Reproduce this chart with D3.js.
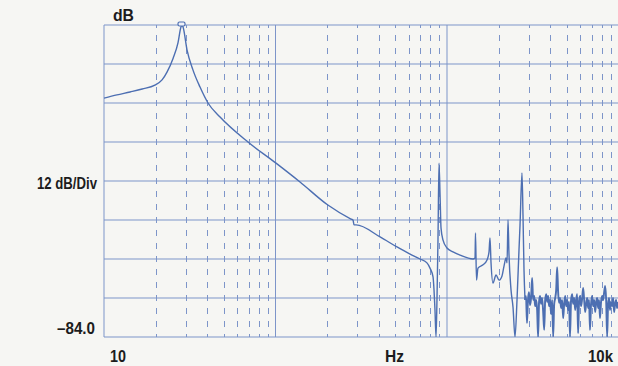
<!DOCTYPE html>
<html>
<head>
<meta charset="utf-8">
<script src="https://cdn.jsdelivr.net/npm/d3@7"></script>
<style>
  html, body { margin: 0; padding: 0; background: #f6f6f3; }
  svg { display: block; }
  .lbl { font-family: "Liberation Sans", Arial, sans-serif; font-weight: bold; fill: #1c1c1c; }
</style>
</head>
<body>
<svg id="chart" width="618" height="366"></svg>
<script>
// Frequency response: resonance near 28 Hz, roll-off, antiresonance, higher modes and noise floor
const freqHz = [
  10, 11.9, 14.2, 16.7, 19.8, 21.8, 23.3, 25.3, 27.0, 28.1, 28.5, 28.9, 30.5, 33.0, 36.3, 40.4, 47.5,
  69.1, 100.7, 139, 202, 275.5, 283, 287, 295, 407, 511, 609, 696, 764, 796, 829, 840, 851, 863,
  874, 886, 898, 911, 923, 948, 1000, 1084, 1191, 1418, 1457, 1466, 1486, 1516, 1622, 1711, 1758,
  1781, 1805, 1854, 1931, 2011, 2093, 2150, 2208, 2239, 2269, 2299, 2362, 2426, 2492, 2560, 2629,
  2666, 2737, 2774, 2812, 2850,
  2888, 2927, 2966, 3006, 3048, 3092, 3136, 3179, 3223, 3267, 3311, 3354, 3398, 3442,
  3486, 3536, 3586, 3637, 3687, 3737, 3787, 3837, 3888, 3938,
  3988, 4045, 4102, 4160, 4217, 4274, 4331, 4388, 4446, 4503,
  4560, 4626, 4691, 4757, 4822, 4888, 4953, 5019, 5084, 5150,
  5215, 5290, 5365, 5440, 5515, 5590, 5664, 5739, 5814, 5889,
  5964, 6050, 6135, 6221, 6307, 6392, 6478, 6564, 6650, 6735,
  6821, 6919, 7017, 7115, 7213, 7311, 7409, 7507, 7605, 7703,
  7801, 7913, 8025, 8137, 8249, 8361, 8473, 8585, 8697, 8809,
  8921, 9047, 9174, 9300, 9427, 9553, 9680, 9806, 9933
];
const levelDb = [
  -10.5, -9.5, -8.6, -7.7, -6.5, -4.9, -2.5, 1.8, 6.5, 11.4, 12.0, 11.4, 4.3, -1.8, -7.1, -12.0, -16.3,
  -24.0, -30.5, -36.3, -43.4, -47.7, -48.0, -49.5, -49.5, -53.2, -56.3, -58.5, -60.0, -61.2, -62.8, -65.5, -69.5, -75.7, -84.0,
  -72.6, -54.2, -30.5, -40.3, -50.5, -54.2, -56.6, -57.8, -58.8, -60.0, -59.7, -52.0, -66.5, -62.8, -61.8, -60.3, -57.8,
  -53.5, -60.9, -67.4, -64.9, -66.5, -65.2, -62.2, -59.7, -61.2, -48.0, -58.8, -69.5, -74.8, -84.0, -72.6, -57.2,
  -49.5, -33.5, -46.5, -63.4, -72.6,
  -71.4, -79.7, -72.6, -70.2, -74.2, -72.0, -65.8, -72.6, -71.4, -74.5, -72.6, -75.7, -84.0, -73.2,
  -71.4, -73.8, -72.0, -76.3, -81.8, -72.6, -70.8, -73.2, -71.4, -74.5,
  -72.6, -76.9, -72.6, -84.0, -73.8, -72.0, -69.5, -62.5, -70.2, -73.5,
  -72.0, -75.1, -72.6, -78.2, -73.8, -71.4, -74.5, -72.6, -75.7, -73.2,
  -84.0, -72.6, -70.8, -73.8, -72.0, -75.7, -72.6, -70.8, -82.8, -73.2,
  -71.4, -74.5, -72.3, -68.9, -72.6, -76.3, -73.8, -72.0, -75.1, -72.6,
  -81.8, -73.8, -71.4, -74.5, -72.6, -76.3, -73.2, -72.0, -75.1, -72.6,
  -78.2, -73.2, -71.4, -72.6, -70.2, -68.3, -72.6, -84.0, -73.8, -72.0,
  -75.7, -73.2, -74.5, -72.0, -76.3, -73.8, -72.6, -75.1, -73.2
];

// Axis settings
const dbTop = 12, dbBottom = -84, dbPerDiv = 12;
const fMin = 10, fMax = 10000;
const noiseFloorStartHz = 2850;
const xTickLabels = ["10", "Hz", "10k"];
const yTickLabels = ["dB", "12 dB/Div", "\u201384.0"];

const svg = d3.select("#chart");
const gridColor = "#7d95c9";
const traceColor = "#4d6fb2";

const x = d3.scaleLog().domain([fMin, fMax]).range([104, 618.5]);
const y = d3.scaleLinear().domain([dbBottom, dbTop]).range([337, 25]);

// Horizontal divisions
const dbLines = d3.range(dbBottom, dbTop + 0.001, dbPerDiv);
svg.append("g").selectAll("line").data(dbLines).join("line")
  .attr("x1", x(fMin)).attr("x2", x(fMax))
  .attr("y1", d => y(d)).attr("y2", d => y(d))
  .attr("stroke", gridColor).attr("stroke-width", 1);

// Decade lines (solid) and minor log lines (dashed)
const decades = [10, 100, 1000, 10000];
const minors = [];
[10, 100, 1000].forEach(d => { for (let k = 2; k <= 9; k++) minors.push(d * k); });

svg.append("g").selectAll("line").data(minors).join("line")
  .attr("x1", d => Math.round(x(d)) + 0.5).attr("x2", d => Math.round(x(d)) + 0.5)
  .attr("y1", y(dbTop)).attr("y2", y(dbBottom))
  .attr("stroke", gridColor).attr("stroke-width", 1)
  .attr("stroke-dasharray", "6 7").attr("stroke-dashoffset", 3);

svg.append("g").selectAll("line").data(decades).join("line")
  .attr("x1", d => x(d)).attr("x2", d => x(d))
  .attr("y1", y(dbTop)).attr("y2", y(dbBottom))
  .attr("stroke", gridColor).attr("stroke-width", 1);

// Trace: swept part drawn fine, the dense noise floor drawn heavier
const pts = freqHz.map((f, i) => [f, levelDb[i]]);
const swept = pts.filter(d => d[0] <= noiseFloorStartHz);
const noise = pts.filter(d => d[0] >= noiseFloorStartHz);
const line = d3.line().x(d => x(d[0])).y(d => y(d[1])).curve(d3.curveMonotoneX);
svg.append("clipPath").attr("id", "plotClip").append("rect")
  .attr("x", x(fMin)).attr("y", y(dbTop) - 4).attr("width", x(fMax) - x(fMin)).attr("height", y(dbBottom) - y(dbTop) + 4);
svg.append("path").datum(swept)
  .attr("d", line)
  .attr("fill", "none").attr("stroke", traceColor)
  .attr("stroke-width", 1.4).attr("stroke-linejoin", "round")
  .attr("clip-path", "url(#plotClip)");
svg.append("path").datum(noise)
  .attr("d", line)
  .attr("fill", "none").attr("stroke", traceColor)
  .attr("stroke-width", 1.9).attr("stroke-linejoin", "round")
  .attr("clip-path", "url(#plotClip)");

// Peak marker
const peakIdx = d3.maxIndex(levelDb);
svg.append("rect")
  .attr("x", x(freqHz[peakIdx]) - 4).attr("y", y(levelDb[peakIdx]) - 3)
  .attr("width", 7).attr("height", 4).attr("rx", 1.5)
  .attr("fill", "#eef1f8").attr("stroke", traceColor).attr("stroke-width", 1.2);

// Labels (condensed bold lettering)
function label(text, xPos, yPos, size, width, anchor) {
  svg.append("text").attr("class", "lbl")
    .attr("x", xPos).attr("y", yPos)
    .attr("font-size", size)
    .attr("text-anchor", anchor || "start")
    .attr("textLength", width).attr("lengthAdjust", "spacingAndGlyphs")
    .text(text);
}
label(yTickLabels[0], 113, 21, 16, 21);
label(yTickLabels[1], 37, 189, 17, 60);
label(yTickLabels[2], 57, 334, 16, 38);
label(xTickLabels[0], x(fMin) + 6, 362, 17, 16);
label(xTickLabels[1], 385, 362, 17, 19);
label(xTickLabels[2], 588, 362, 17, 25);
</script>
</body>
</html>
